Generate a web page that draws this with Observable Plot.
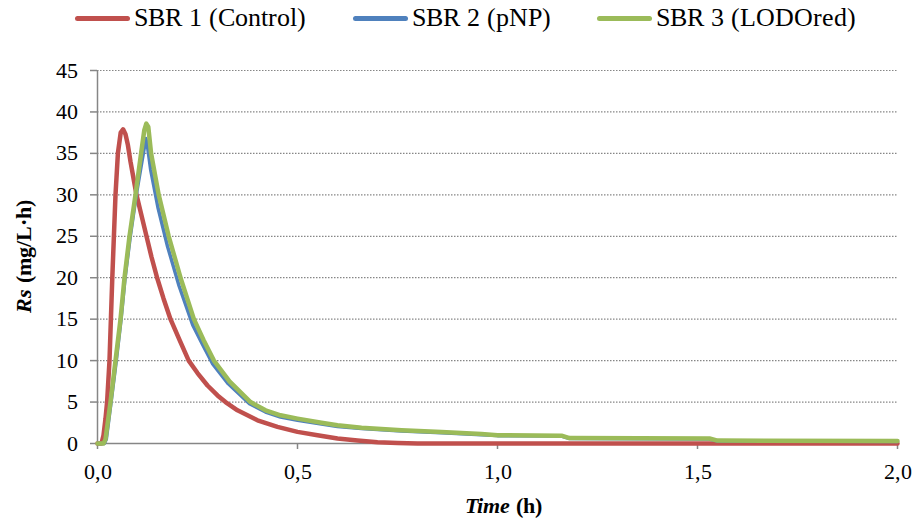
<!DOCTYPE html>
<html>
<head>
<meta charset="utf-8">
<style>
  @font-face { font-family: "ChartSerif"; src: local("Liberation Serif"), local("LiberationSerif"), local("LiberationSerif-Regular"), local("Times New Roman"); font-weight: normal; font-style: normal; }
  @font-face { font-family: "ChartSerif"; src: local("Liberation Serif Bold"), local("LiberationSerif-Bold"), local("Times New Roman Bold"); font-weight: bold; font-style: normal; }
  @font-face { font-family: "ChartSerif"; src: local("Liberation Serif Italic"), local("LiberationSerif-Italic"), local("Times New Roman Italic"); font-weight: normal; font-style: italic; }
  @font-face { font-family: "ChartSerif"; src: local("Liberation Serif Bold Italic"), local("LiberationSerif-BoldItalic"), local("Times New Roman Bold Italic"); font-weight: bold; font-style: italic; }
  html, body { margin: 0; padding: 0; background: #fff; }
  body { width: 914px; height: 524px; overflow: hidden; font-family: "ChartSerif", "Liberation Serif", serif; }
  #legend { position: relative; height: 40px; }
  .item { position: absolute; top: 3px; display: flex; align-items: center; font-size: 26px; line-height: 30px; color: #000; white-space: nowrap; }
  .sw { width: 55px; height: 5px; border-radius: 3px; margin-right: 4px; }
  #chart svg text, #chart svg tspan { font-family: "ChartSerif", "Liberation Serif", serif; }
</style>
<script src="https://cdn.jsdelivr.net/npm/d3@7"></script>
<script src="https://cdn.jsdelivr.net/npm/@observablehq/plot@0.6"></script>
</head>
<body>
<div id="legend"></div>
<div id="chart"></div>
<script>
// Series names and colours
const seriesNames = ["SBR 1 (Control)", "SBR 2 (pNP)", "SBR 3 (LODOred)"];
const seriesColors = ["#C0504D", "#4F81BD", "#9BBB59"];

// SBR 1 (Control): time (h) and Rs (mg/L·h)
const t1 = [0, 0.01, 0.015, 0.02, 0.024, 0.03, 0.037, 0.045, 0.051, 0.058, 0.064, 0.07, 0.076, 0.0825, 0.09, 0.0975, 0.11, 0.1225, 0.135, 0.149, 0.165, 0.1825, 0.205, 0.228, 0.25, 0.275, 0.3, 0.32, 0.35, 0.4, 0.45, 0.5, 0.55, 0.6, 0.65, 0.7, 0.75, 0.8, 1.0, 1.5, 2.0];
const rs1 = [0, 0, 1, 3, 5, 10, 20, 30, 35, 37.5, 37.9, 37.3, 36, 34, 32, 30, 27.5, 25, 22.5, 20, 17.5, 15, 12.5, 10, 8.5, 7, 5.8, 5, 4, 2.8, 2, 1.4, 1.0, 0.6, 0.35, 0.15, 0.05, 0, 0, 0, 0];

// SBR 2 (pNP)
const t2 = [0, 0.017, 0.022, 0.034, 0.047, 0.059, 0.069, 0.082, 0.097, 0.111, 0.121, 0.126, 0.133, 0.151, 0.175, 0.204, 0.238, 0.262, 0.288, 0.327, 0.38, 0.42, 0.4575, 0.5, 0.56, 0.6, 0.66, 0.76, 0.86, 0.96, 1.0, 1.16, 1.18, 1.53, 1.55, 2.0];
const rs2 = [0, 0, 0.5, 5, 10, 15, 20, 25, 30, 34, 36.8, 35.5, 33, 28.5, 23.8, 19, 14.3, 12, 9.6, 7.2, 4.8, 3.8, 3.2, 2.8, 2.35, 2.05, 1.8, 1.5, 1.3, 1.05, 0.95, 0.9, 0.6, 0.55, 0.3, 0.25];

// SBR 3 (LODOred)
const t3 = [0, 0.015, 0.02, 0.0325, 0.045, 0.0575, 0.0675, 0.08, 0.095, 0.109, 0.117, 0.122, 0.127, 0.134, 0.153, 0.178, 0.2075, 0.241, 0.265, 0.291, 0.33, 0.3825, 0.42, 0.4575, 0.5, 0.56, 0.6, 0.66, 0.76, 0.86, 0.96, 1.0, 1.16, 1.18, 1.53, 1.55, 2.0];
const rs3 = [0, 0, 0.5, 5, 10, 15, 20, 25, 30, 35, 37.8, 38.6, 38.2, 35, 30, 25, 20, 15, 12.5, 10, 7.5, 5, 4, 3.4, 3.0, 2.5, 2.2, 1.9, 1.6, 1.4, 1.15, 1.0, 0.95, 0.65, 0.6, 0.35, 0.3];

// Axis ticks
const xTicks = [0, 0.5, 1, 1.5, 2];
const yTicks = [0, 5, 10, 15, 20, 25, 30, 35, 40, 45];

const toRows = (ts, vs) => ts.map((t, i) => ({t, v: vs[i]}));
const d1 = toRows(t1, rs1), d2 = toRows(t2, rs2), d3s = toRows(t3, rs3);

const FONT = "ChartSerif, 'Liberation Serif', serif";

// Legend
const legendPos = [75, 353, 597];
const legend = document.getElementById("legend");
seriesNames.forEach((name, i) => {
  const item = document.createElement("div");
  item.className = "item";
  item.style.left = legendPos[i] + "px";
  const sw = document.createElement("span");
  sw.className = "sw";
  sw.style.background = seriesColors[i];
  const tx = document.createElement("span");
  tx.textContent = name;
  item.appendChild(sw); item.appendChild(tx);
  legend.appendChild(item);
});

const W = 914, H = 484, mL = 97, mR = 17, mT = 30, mB = 81;
const axisGray = "#868686";
const fmt = d => d.toFixed(1).replace(".", ",");

const chart = Plot.plot({
  width: W, height: H,
  marginLeft: mL, marginRight: mR, marginTop: mT, marginBottom: mB,
  style: {fontFamily: FONT, fontSize: "22px", color: "#000", background: "#fff"},
  x: {domain: [0, 2]},
  y: {domain: [0, 45]},
  marks: [
    Plot.ruleY(yTicks.filter(d => d > 0), {stroke: axisGray, strokeWidth: 1.2, strokeDasharray: "1.5,1.5"}),
    Plot.ruleX([0], {stroke: axisGray, strokeWidth: 1.5}),
    Plot.ruleY([0], {stroke: axisGray, strokeWidth: 1.5}),
    Plot.axisY({ticks: yTicks, tickSize: 7, tickPadding: 13, stroke: axisGray, strokeWidth: 1.5, label: null, tickFormat: d => String(d)}),
    Plot.axisX({ticks: xTicks, tickSize: 6, tickPadding: 14, stroke: axisGray, strokeWidth: 1.5, label: null, tickFormat: fmt}),
    Plot.line(d1, {x: "t", y: "v", stroke: seriesColors[0], strokeWidth: 4.5, strokeLinejoin: "round"}),
    Plot.line(d2, {x: "t", y: "v", stroke: seriesColors[1], strokeWidth: 3.5, strokeLinejoin: "round"}),
    Plot.line(d3s, {x: "t", y: "v", stroke: seriesColors[2], strokeWidth: 4.5, strokeLinejoin: "round"})
  ]
});

const svg = d3.select(chart);
// x-axis title
const xt = svg.append("text")
  .attr("x", mL + (W - mL - mR) / 2 + 6)
  .attr("y", H - 11)
  .attr("text-anchor", "middle")
  .style("font-size", "22px")
  .style("font-weight", "bold")
  .attr("fill", "#000");
xt.append("tspan").style("font-style", "italic").text("Time");
xt.append("tspan").text(" (h)");
// y-axis title
const yc = mT + (H - mT - mB) / 2;
const yt = svg.append("text")
  .attr("transform", `translate(31,${yc}) rotate(-90)`)
  .attr("text-anchor", "middle")
  .style("font-size", "22px")
  .style("font-weight", "bold")
  .attr("fill", "#000");
yt.append("tspan").style("font-style", "italic").text("Rs");
yt.append("tspan").text(" (mg/L·h)");

document.getElementById("chart").appendChild(chart);
</script>
</body>
</html>
